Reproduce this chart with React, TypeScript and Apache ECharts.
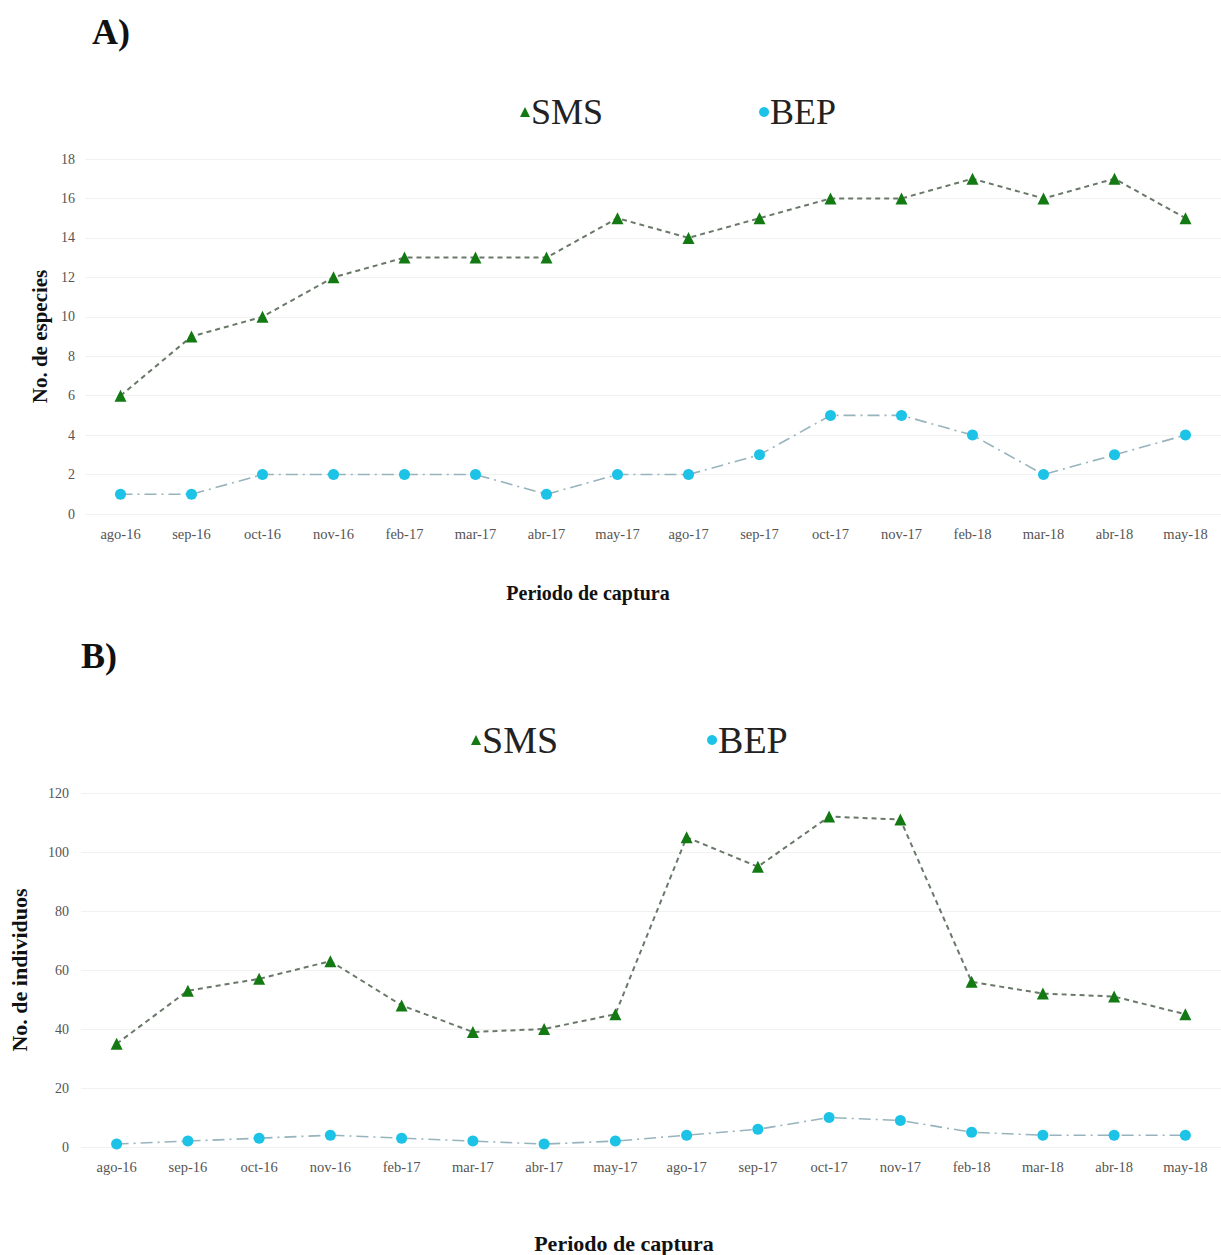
import React, { useEffect, useRef } from "react";
import * as echarts from "echarts";

const categories = [
  "ago-16", "sep-16", "oct-16", "nov-16", "feb-17", "mar-17", "abr-17", "may-17",
  "ago-17", "sep-17", "oct-17", "nov-17", "feb-18", "mar-18", "abr-18", "may-18",
];
const smsSpecies = [6, 9, 10, 12, 13, 13, 13, 15, 14, 15, 16, 16, 17, 16, 17, 15];
const bepSpecies = [1, 1, 2, 2, 2, 2, 1, 2, 2, 3, 5, 5, 4, 2, 3, 4];
const smsIndiv = [35, 53, 57, 63, 48, 39, 40, 45, 105, 95, 112, 111, 56, 52, 51, 45];
const bepIndiv = [1, 2, 3, 4, 3, 2, 1, 2, 4, 6, 10, 9, 5, 4, 4, 4];
const seriesNames = ["SMS", "BEP"];

const SERIF = "'Liberation Serif', 'DejaVu Serif', serif";
const GREEN = "#137a13";
const CYAN = "#1cc3e6";
const SMS_LINE = "#6a786a";
const BEP_LINE = "#97b4bd";

export default function App() {
  const ref = useRef<HTMLDivElement>(null);
  useEffect(() => {
    if (!ref.current) return;
    const chart = echarts.init(ref.current, undefined, { renderer: "svg" });

    const xAxisBase = (gridIndex: number) => ({
      type: "category",
      gridIndex,
      data: categories,
      boundaryGap: true,
      axisLine: { show: false },
      axisTick: { show: false },
      axisLabel: { color: "#555", fontFamily: SERIF, fontSize: 14.5, margin: 12, interval: 0 },
      splitLine: { show: false },
    });

    const smsSeries = (data: number[], idx: number) => ({
      name: seriesNames[0],
      type: "line",
      xAxisIndex: idx,
      yAxisIndex: idx,
      data,
      symbol: "triangle",
      symbolSize: 12,
      itemStyle: { color: GREEN },
      lineStyle: { color: SMS_LINE, width: 2, type: [5, 4] },
      z: 3,
    });
    const bepSeries = (data: number[], idx: number) => ({
      name: seriesNames[1],
      type: "line",
      xAxisIndex: idx,
      yAxisIndex: idx,
      data,
      symbol: "circle",
      symbolSize: 11,
      itemStyle: { color: CYAN },
      lineStyle: { color: BEP_LINE, width: 1.6, type: [12, 5, 2, 5] },
      z: 2,
    });

    chart.setOption({
      animation: false,
      backgroundColor: "#fff",
      grid: [
        { left: 85, top: 159, width: 1141, height: 355, containLabel: false },
        { left: 72, top: 793, width: 1155, height: 354, containLabel: false },
      ],
      legend: [
        {
          left: 515,
          top: 89,
          itemGap: 156,
          itemWidth: 10,
          itemHeight: 10,
          data: [
            { name: seriesNames[0], icon: "triangle" },
            { name: seriesNames[1], icon: "circle" },
          ],
          textStyle: { fontFamily: SERIF, fontSize: 36, color: "#222", padding: [0, 0, 0, -4] },
        },
        {
          left: 466,
          top: 716,
          itemGap: 149,
          itemWidth: 10,
          itemHeight: 10,
          data: [
            { name: seriesNames[0], icon: "triangle" },
            { name: seriesNames[1], icon: "circle" },
          ],
          textStyle: { fontFamily: SERIF, fontSize: 38, color: "#222", padding: [0, 0, 0, -4] },
        },
      ],
      xAxis: [xAxisBase(0), xAxisBase(1)],
      yAxis: [
        {
          type: "value",
          gridIndex: 0,
          min: 0,
          max: 18,
          interval: 2,
          name: "No. de especies",
          nameLocation: "middle",
          nameRotate: 90,
          nameGap: 31,
          nameTextStyle: { fontFamily: SERIF, fontSize: 21, fontWeight: "bold", color: "#111" },
          axisLine: { show: false },
          axisTick: { show: false },
          axisLabel: { color: "#555", fontFamily: SERIF, fontSize: 14, margin: 10 },
          splitLine: { lineStyle: { color: "#f1f1f1", width: 1 } },
        },
        {
          type: "value",
          gridIndex: 1,
          min: 0,
          max: 120,
          interval: 20,
          name: "No. de individuos",
          nameLocation: "middle",
          nameRotate: 90,
          nameGap: 51,
          nameTextStyle: { fontFamily: SERIF, fontSize: 22, fontWeight: "bold", color: "#111" },
          axisLine: { show: false },
          axisTick: { show: false },
          axisLabel: { color: "#555", fontFamily: SERIF, fontSize: 14, margin: 12 },
          splitLine: { lineStyle: { color: "#f1f1f1", width: 1 } },
        },
      ],
      series: [
        smsSeries(smsSpecies, 0),
        bepSeries(bepSpecies, 0),
        smsSeries(smsIndiv, 1),
        bepSeries(bepIndiv, 1),
      ],
      graphic: [
        {
          type: "text",
          left: 92,
          top: 14,
          style: { text: "A)", font: `bold 36px ${SERIF}`, fill: "#111" },
        },
        {
          type: "text",
          left: 81,
          top: 638,
          style: { text: "B)", font: `bold 36px ${SERIF}`, fill: "#111" },
        },
        {
          type: "text",
          x: 588,
          y: 593,
          style: {
            text: "Periodo de captura",
            font: `bold 20px ${SERIF}`,
            fill: "#111",
            align: "center",
            verticalAlign: "middle",
          },
        },
        {
          type: "text",
          x: 624,
          y: 1243,
          style: {
            text: "Periodo de captura",
            font: `bold 22px ${SERIF}`,
            fill: "#111",
            align: "center",
            verticalAlign: "middle",
          },
        },
      ],
    });
    return () => chart.dispose();
  }, []);

  return (
    <div
      ref={ref}
      style={{ position: "absolute", left: 0, top: 0, width: 1221, height: 1255, overflow: "hidden" }}
    />
  );
}
